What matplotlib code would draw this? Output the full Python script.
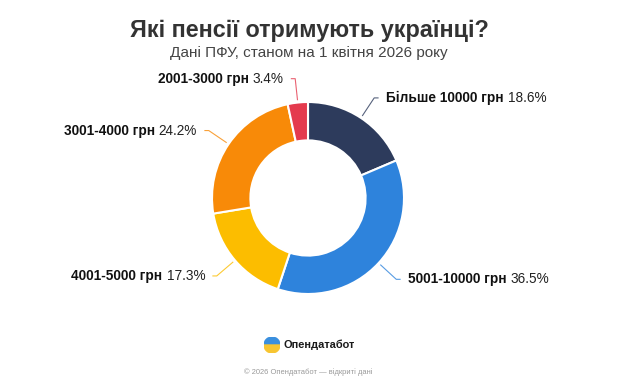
import numpy as np
import matplotlib
matplotlib.use("Agg")
import matplotlib.pyplot as plt
from matplotlib.patches import Wedge

plt.rcParams['font.family'] = ['Liberation Sans', 'DejaVu Sans']

# ---- data ----
categories = ["Більше 10000 грн", "5001-10000 грн", "4001-5000 грн", "3001-4000 грн", "2001-3000 грн"]
shares = [18.6, 36.5, 17.3, 24.2, 3.4]
pct_labels = ["18.6%", "36.5%", "17.3%", "24.2%", "3.4%"]
colors = ["#2d3b5c", "#2e83dc", "#fcbd00", "#f88a08", "#e43a4e"]

title = "Які пенсії отримують українці?"
subtitle = "Дані ПФУ, станом на 1 квітня 2026 року"
brand = "Опендатабот"
footer = "© 2026 Опендатабот — відкриті дані"

W, H = 620, 387
fig = plt.figure(figsize=(W / 100, H / 100), dpi=100)
fig.patch.set_facecolor("white")

# donut axes: center (308,198) px, radius 96 px
cx, cy, R = 308, 198, 96
ax = fig.add_axes([(cx - R) / W, 1 - (cy + R) / H, 2 * R / W, 2 * R / H])

wedges, _ = ax.pie(shares, colors=colors, startangle=90, counterclock=False,
                   radius=1.0, wedgeprops=dict(width=0.4, edgecolor="white", linewidth=1.5))
ax.set_xlim(-1, 1)
ax.set_ylim(-1, 1)
ax.set_aspect("equal")
ax.axis("off")

fs = 9.8
for w, cat, pct, col in zip(wedges, categories, pct_labels, colors):
    ang = np.deg2rad((w.theta1 + w.theta2) / 2)
    c, s = np.cos(ang), np.sin(ang)
    x0, y0 = 1.03 * c, 1.03 * s
    x1, y1 = 1.25 * c, 1.25 * s
    side = 1 if c >= 0 else -1
    x2 = x1 + side * 0.04
    ax.plot([x0, x1, x2], [y0, y1, y1], color=col, lw=0.8, alpha=0.8, clip_on=False)
    tx = x2 + side * 0.08
    if side > 0:
        t1 = ax.text(tx, y1, cat, ha="left", va="center", fontsize=fs,
                     fontweight="bold", color="#111111", clip_on=False)
        ax.annotate(pct, xy=(1, 0), xycoords=t1, xytext=(3, 0), textcoords="offset points",
                    ha="left", va="bottom", fontsize=fs, color="#222222")
    else:
        t1 = ax.text(tx, y1, pct, ha="right", va="center", fontsize=fs,
                     color="#222222", clip_on=False)
        ax.annotate(cat, xy=(0, 0), xycoords=t1, xytext=(-3, 0), textcoords="offset points",
                    ha="right", va="bottom", fontsize=fs, fontweight="bold", color="#111111")

fig.text(309 / W, 1 - 31 / H, title, ha="center", va="center", fontsize=16.8,
         fontweight="bold", color="#333333")
fig.text(309 / W, 1 - 53 / H, subtitle, ha="center", va="center", fontsize=11,
         color="#444444")

# logo
lax = fig.add_axes([(272 - 8) / W, 1 - (345 + 8) / H, 16 / W, 16 / H])
lax.set_xlim(-1, 1)
lax.set_ylim(-1, 1)
lax.set_aspect("equal")
lax.axis("off")
lax.add_patch(Wedge((0, 0), 1, 0, 180, color="#3a8fde"))
lax.add_patch(Wedge((0, 0), 1, 180, 360, color="#f7c531"))
fig.text(283 / W, 1 - 345 / H, brand, ha="left", va="center", fontsize=7.9,
         fontweight="bold", color="#1a1a1a")
fig.text(308 / W, 1 - 372 / H, footer, ha="center", va="center", fontsize=5.4,
         color="#999999")

fig.savefig("out.png", dpi=100, facecolor="white")
